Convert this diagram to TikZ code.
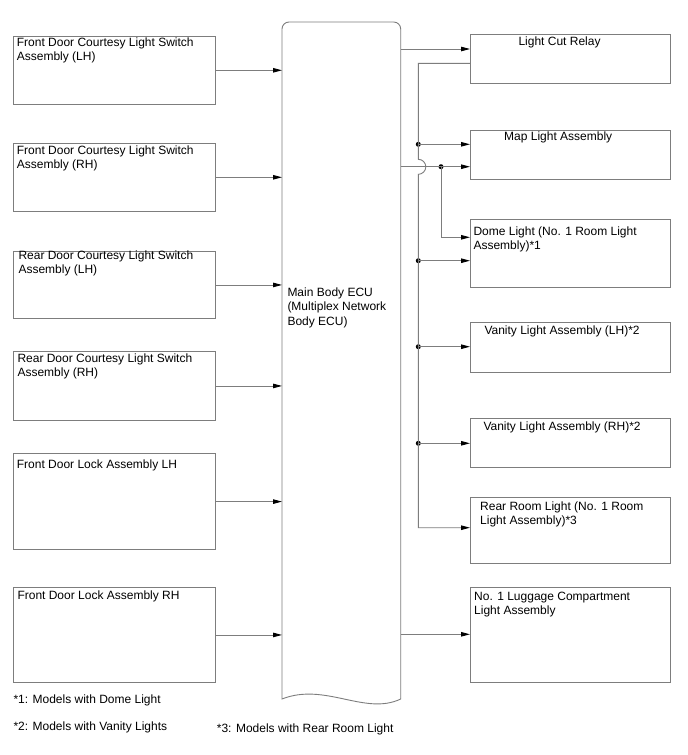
\documentclass[tikz,border=0pt]{standalone}
\usepackage{fontspec}
\setmainfont{Liberation Sans}
\usetikzlibrary{arrows.meta}
\definecolor{ln}{RGB}{125,125,125}
\begin{document}
\begin{tikzpicture}[x=1pt,y=-1pt,
  box/.style={draw=ln, line width=0.9pt, rectangle, inner sep=0pt, anchor=north west},
  txt/.style={anchor=north west, inner sep=0pt, align=left, font=\fontsize{12}{14}\selectfont},
  wire/.style={draw=ln, line width=0.9pt},
  arr/.style={wire, -{Triangle[length=9pt,width=4.5pt,fill=black,color=black]}},
  jdot/.style={circle, fill=black, inner sep=0pt, minimum size=5pt}]
\useasboundingbox (0,0) rectangle (688,755);
\fill[white] (0,0) rectangle (688,755);

% left boxes
\node[box, minimum width=202pt, minimum height=68.3pt] (L1) at (13,35.7) {};
\node[box, minimum width=202pt, minimum height=68.3pt] (L2) at (13,142.7) {};
\node[box, minimum width=202pt, minimum height=67.6pt] (L3) at (13,250.7) {};
\node[box, minimum width=202pt, minimum height=69pt] (L4) at (13,351) {};
\node[box, minimum width=202pt, minimum height=95.7pt] (L5) at (13,453.3) {};
\node[box, minimum width=202pt, minimum height=95.6pt] (L6) at (13,586.7) {};

\node[txt] (L1t) at (16.7,38.1) {Front Door Courtesy Light Switch\\Assembly (LH)};
\node[txt] (L2t) at (16.7,145.5) {Front Door Courtesy Light Switch\\Assembly (RH)};
\node[txt] (L3t) at (18.3,250.8) {Rear Door Courtesy Light Switch\\Assembly (LH)};
\node[txt] (L4t) at (17.3,353.8) {Rear Door Courtesy Light Switch\\Assembly (RH)};
\node[txt] (L5t) at (16.7,459.8) {Front Door Lock Assembly LH};
\node[txt] (L6t) at (17.3,590.5) {Front Door Lock Assembly RH};

% ECU
\node[inner sep=0pt, minimum width=118.7pt, minimum height=683pt, anchor=north west] (ECU) at (282,22) {};
\draw[wire] (282,699) -- (282,29) arc[start angle=180, end angle=90, radius=7pt]
  -- (393.7,22) arc[start angle=90, end angle=0, radius=7pt]
  -- (400.7,699) .. controls (365,716) and (325,682) .. (282,699) -- cycle;
\node[txt, font=\fontsize{12}{14.6}\selectfont] (ECUt) at (287.3,287.1) {Main Body ECU\\(Multiplex Network\\Body ECU)};

% right boxes
\node[box, minimum width=199.5pt, minimum height=49.3pt] (R1) at (470,34) {};
\node[box, minimum width=199.5pt, minimum height=49.3pt] (R2) at (470,130) {};
\node[box, minimum width=199.5pt, minimum height=67.7pt] (R3) at (470,219) {};
\node[box, minimum width=199.5pt, minimum height=49.4pt] (R4) at (470,322.3) {};
\node[box, minimum width=199.5pt, minimum height=49pt] (R5) at (470,417.7) {};
\node[box, minimum width=199.5pt, minimum height=66.6pt] (R6) at (470,496.7) {};
\node[box, minimum width=199.5pt, minimum height=95.6pt] (R7) at (470,586.7) {};

\node[txt] (R1t) at (518.3,37.1) {Light Cut Relay};
\node[txt] (R2t) at (504,132.1) {Map Light Assembly};
\node[txt] (R3t) at (473.3,227.1) {Dome Light (No. 1 Room Light\\Assembly)*1};
\node[txt] (R4t) at (484.3,325.5) {Vanity Light Assembly (LH)*2};
\node[txt] (R5t) at (483.3,421.5) {Vanity Light Assembly (RH)*2};
\node[txt] (R6t) at (480,501.5) {Rear Room Light (No. 1 Room\\Light Assembly)*3};
\node[txt] (R7t) at (474,591.5) {No. 1 Luggage Compartment\\Light Assembly};

% left arrows
\foreach \n in {L1,L2,L3,L4,L5,L6}
  \draw[arr] (\n.east) -- (\n.east -| ECU.west);

% right wiring coordinates
\coordinate (r1in) at (470,49);
\coordinate (r1out) at (470,63.3);
\coordinate (bA) at (418.3,63.3);
\coordinate (jTop) at (418.3,159.3);
\coordinate (r6in) at (470,527.7);
\coordinate (bEnd) at (418.3,527.7);
\coordinate (r2a) at (470,144.3);
\coordinate (r2b) at (470,166.7);
\coordinate (r3a) at (470,237.3);
\coordinate (r3b) at (470,260.7);
\coordinate (r4in) at (470,346.7);
\coordinate (r5in) at (470,443.3);
\coordinate (r7in) at (470,634.3);

\node[jdot] (d1) at (418.3,144.3) {};
\node[jdot] (d2) at (441,166.7) {};
\node[jdot] (d3) at (418.3,260.7) {};
\node[jdot] (d4) at (418.3,346.7) {};
\node[jdot] (d5) at (418.3,443.3) {};

\draw[arr] (ECU.east |- r1in) -- (r1in);
\draw[arr] (r1out) -- (bA) -- (jTop) arc[start angle=90, end angle=-90, radius=7.5pt] -- (bEnd) -- (r6in);
\draw[arr] (d1.center) -- (r2a);
\draw[arr] (ECU.east |- r2b) -- (r2b);
\draw[arr] (d2.center) -- (d2.center |- r3a) -- (r3a);
\draw[arr] (d3.center) -- (r3b);
\draw[arr] (d4.center) -- (r4in);
\draw[arr] (d5.center) -- (r5in);
\draw[arr] (ECU.east |- r7in) -- (r7in);

% footnotes
\node[txt] (f1) at (13.3,694.1) {*1: Models with Dome Light};
\node[txt] (f2) at (13.3,721.8) {*2: Models with Vanity Lights};
\node[txt] (f3) at (216.7,723.8) {*3: Models with Rear Room Light};
\end{tikzpicture}
\end{document}
